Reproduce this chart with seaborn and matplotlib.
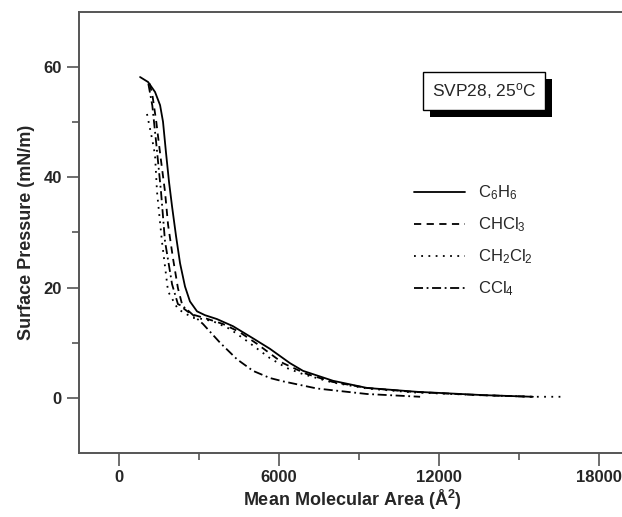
import matplotlib
matplotlib.use('Agg')
import matplotlib.pyplot as plt
from matplotlib.patches import Rectangle
from matplotlib.transforms import IdentityTransform
import seaborn as sns
import pandas as pd

# surface pressure isotherms
c6h6_x = [790, 1090, 1350, 1540, 1650, 1760, 1875, 1990, 2140, 2290, 2475, 2660, 2925, 3225,
          3670, 4275, 5025, 5660, 6410, 6900, 8025, 9300, 11170, 13650, 15520]
c6h6_y = [58.2, 57.3, 55.5, 53.1, 50.1, 44.6, 39.2, 34.7, 29.3, 24.4, 20.2, 17.5, 15.7, 15.0,
          14.3, 13.0, 10.8, 8.9, 6.3, 4.9, 3.1, 1.8, 1.1, 0.5, 0.2]

chcl3_x = [1150, 1250, 1400, 1550, 1725, 1840, 2025, 2210, 2400, 2700, 3200, 3900, 4500, 5175,
           6150, 7000, 8000, 9300, 11000, 13500, 15500]
chcl3_y = [57.0, 55.0, 50.0, 44.0, 37.4, 31.4, 25.3, 19.9, 16.3, 15.2, 14.5, 13.4, 12.0, 9.8,
           6.3, 4.4, 2.9, 1.8, 1.1, 0.5, 0.2]

ch2cl2_x = [1050, 1240, 1350, 1425, 1610, 1840, 2210, 2775, 2925, 3525, 4160, 4800, 5660, 6300,
            6900, 8000, 9300, 11000, 13500, 15500, 16720]
ch2cl2_y = [51.5, 47.0, 44.1, 37.4, 28.4, 19.3, 16.1, 14.5, 14.5, 13.9, 12.5, 10.3, 7.2, 5.4,
            4.3, 2.8, 1.7, 1.0, 0.5, 0.2, 0.2]

ccl4_x = [1100, 1250, 1400, 1575, 1725, 1990, 2210, 2400, 2600, 3150, 3790, 4425, 5025, 5660,
          6150, 7420, 9300, 11290]
ccl4_y = [57.0, 53.0, 46.0, 37.4, 28.4, 20.6, 17.0, 16.6, 15.8, 13.4, 10.0, 7.0, 4.9, 3.6,
          3.0, 1.7, 0.7, 0.2]

series = [
    ('C$_6$H$_6$', c6h6_x, c6h6_y, '-'),
    ('CHCl$_3$', chcl3_x, chcl3_y, (0, (4, 3))),
    ('CH$_2$Cl$_2$', ch2cl2_x, ch2cl2_y, (0, (1, 3))),
    ('CCl$_4$', ccl4_x, ccl4_y, (0, (5, 2, 1, 2))),
]

sns.set_style('ticks')
plt.rcParams['font.family'] = ['Liberation Sans', 'DejaVu Sans']
plt.rcParams['mathtext.default'] = 'regular'

fig = plt.figure(figsize=(6.22, 5.17), dpi=100)
ax = fig.add_axes([0.127, 0.1238, 0.879, 0.853])

for name, xs, ys, ls in series:
    df = pd.DataFrame({'area': xs, 'pressure': ys})
    sns.lineplot(data=df, x='area', y='pressure', ax=ax, color='black', lw=1.3,
                 linestyle=ls, sort=False, estimator=None, label=name)

ax.set_xlim(-1500, 19000)
ax.set_ylim(-10, 70)
ax.set_xticks([0, 6000, 12000, 18000])
ax.set_xticks([3000, 9000, 15000], minor=True)
ax.set_yticks([0, 20, 40, 60])
ax.set_yticks([10, 30, 50], minor=True)

for side in ['left', 'bottom', 'top', 'right']:
    ax.spines[side].set_color('#555555')
    ax.spines[side].set_linewidth(1.4)
ax.tick_params(which='major', length=9, width=1.2, color='#555555', labelsize=12)
ax.tick_params(which='minor', length=5, width=1.2, color='#555555')
for lab in ax.get_xticklabels() + ax.get_yticklabels():
    lab.set_fontweight('bold')

ax.set_xlabel('Mean Molecular Area (Å$^2$)', fontsize=13, fontweight='bold', labelpad=2)
ax.set_ylabel('Surface Pressure (mN/m)', fontsize=13, fontweight='bold', labelpad=6)

leg = ax.legend(loc='upper left', bbox_to_anchor=(0.585, 0.645), frameon=False, fontsize=12,
                handlelength=3.05, handletextpad=0.8, labelspacing=0.8)

# label box with a drop shadow
t = ax.text(13690, 55.7, 'SVP28, 25$^o$C', ha='center', va='center', fontsize=12.5, zorder=5,
            bbox=dict(boxstyle='square,pad=0.5', fc='white', ec='black', lw=1))
fig.canvas.draw()
bb = t.get_bbox_patch().get_window_extent()
ax.add_artist(Rectangle((bb.x0 + 7, bb.y0 - 7), bb.width, bb.height, facecolor='black',
                        edgecolor='none', transform=IdentityTransform(), zorder=4,
                        clip_on=False))

plt.savefig('out.png', dpi=100)
plt.close()
